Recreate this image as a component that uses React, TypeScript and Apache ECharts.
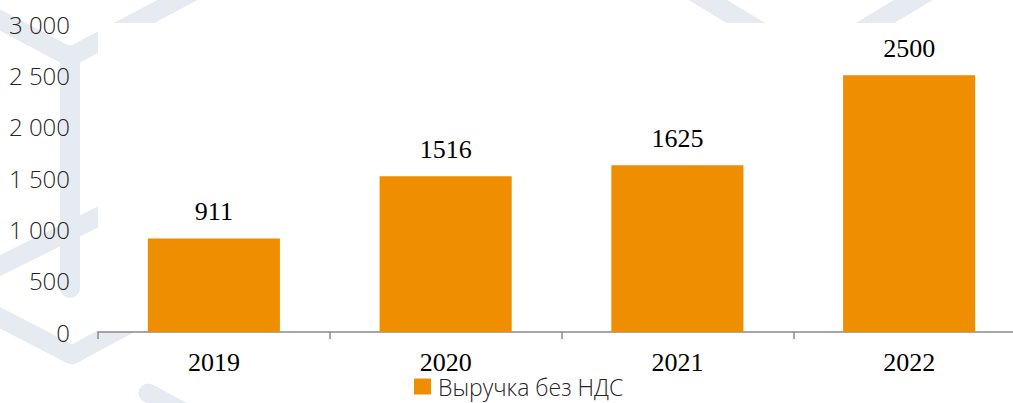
import React, { useEffect, useRef } from "react";
import * as echarts from "echarts";

const categories = ["2019", "2020", "2021", "2022"];
const revenue = [911, 1516, 1625, 2500];
const seriesName = "Выручка без НДС";
const yTicks = { min: 0, max: 3000, interval: 500 };

const WM = "#e6eaf1";
const CHART_W = 1025;

function band(points: number[][], width = 19) {
  return {
    type: "polyline",
    silent: true,
    z: -20,
    shape: { points },
    style: { stroke: WM, lineWidth: width, fill: null, lineCap: "round", lineJoin: "round" },
  };
}

export default function App() {
  const ref = useRef<HTMLDivElement>(null);
  useEffect(() => {
    if (!ref.current) return;
    const chart = echarts.init(ref.current, undefined, { renderer: "svg" });
    const fmt = (v: number) => String(v).replace(/\B(?=(\d{3})+(?!\d))/g, " ");
    chart.setOption({
      animation: false,
      backgroundColor: "#ffffff",
      graphic: [
        band([[-15, 12], [70, 57], [200, -12]]),
        band([[70, 55], [70, 288]], 20),
        band([[-15, 273], [130, 201]]),
        band([[-15, 310], [72, 355], [135, 321]]),
        band([[148, 393], [210, 426]]),
        band([[675, -20], [810, 62], [950, -22]], 20),
        {
          type: "rect",
          silent: true,
          z: -10,
          shape: { x: 98, y: 23, width: CHART_W - 98, height: 332 - 23 },
          style: { fill: "#ffffff" },
        },
      ],
      grid: { left: 98, right: 0, top: 24, bottom: 71, containLabel: false },
      legend: {
        data: [seriesName],
        left: 414,
        top: 375,
        padding: 0,
        icon: "rect",
        itemWidth: 17,
        itemHeight: 16,
        itemGap: 10,
        textStyle: {
          fontFamily: "Open Sans",
          fontWeight: 300,
          fontSize: 23,
          color: "#262626",
          lineHeight: 23,
          padding: [0, 0, 0, 2],
        },
      },
      xAxis: {
        type: "category",
        data: categories,
        boundaryGap: true,
        axisLine: { show: true, lineStyle: { color: "#8a8a8a", width: 1.5 } },
        axisTick: { show: true, length: 7, alignWithLabel: false, lineStyle: { color: "#8a8a8a", width: 1.5 } },
        axisLabel: {
          fontFamily: "Liberation Serif",
          fontSize: 26,
          lineHeight: 20,
          color: "#000000",
          margin: 20,
        },
      },
      yAxis: {
        type: "value",
        min: yTicks.min,
        max: yTicks.max,
        interval: yTicks.interval,
        splitLine: { show: false },
        axisLine: { show: false },
        axisTick: { show: false },
        axisLabel: {
          formatter: fmt,
          fontFamily: "Open Sans",
          fontWeight: 300,
          fontSize: 24,
          color: "#262626",
          margin: 28,
        },
      },
      series: [
        {
          name: seriesName,
          type: "bar",
          data: revenue,
          barWidth: "57%",
          itemStyle: { color: "#EE8E00" },
          label: {
            show: true,
            position: "top",
            distance: 14,
            fontFamily: "Liberation Serif",
            fontSize: 26,
            color: "#000000",
          },
        },
      ],
    });
    return () => chart.dispose();
  }, []);
  return (
    <div
      style={{ position: "fixed", left: 0, top: 0, width: 1013, height: 403, overflow: "hidden" }}
    >
      <div ref={ref} style={{ width: CHART_W, height: 403 }} />
    </div>
  );
}
